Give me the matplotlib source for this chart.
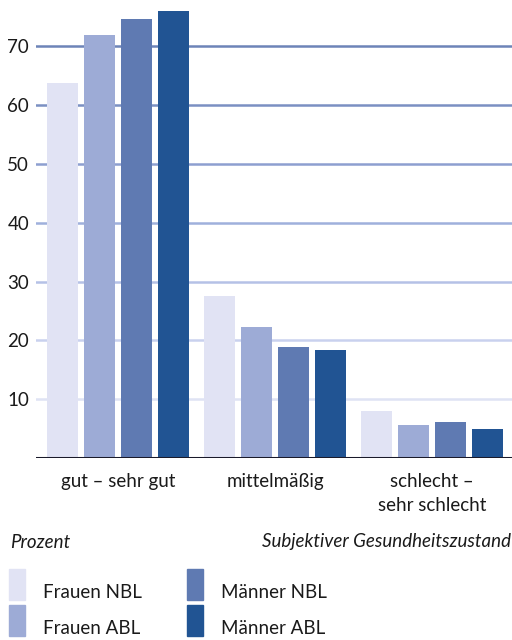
import matplotlib
matplotlib.use("Agg")
import matplotlib.pyplot as plt
import numpy as np

plt.rcParams['font.family'] = ['Lato', 'DejaVu Sans']

categories = ["gut – sehr gut", "mittelmäßig", "schlecht –\nsehr schlecht"]
series_names = ["Frauen NBL", "Frauen ABL", "Männer NBL", "Männer ABL"]
values = {
    "Frauen NBL": [63.8, 27.6, 8.0],
    "Frauen ABL": [71.9, 22.3, 5.6],
    "Männer NBL": [74.7, 18.9, 6.1],
    "Männer ABL": [76.0, 18.4, 4.9],
}
colors = ["#e1e3f4", "#9dabd6", "#5f7ab2", "#215493"]
yticks = [10, 20, 30, 40, 50, 60, 70]
grid_colors = ["#dfe3f4", "#c9d1ee", "#b5c1e6", "#9fb0dc", "#8d9fd0", "#7b90c2", "#6d84b8"]

W, H = 512, 640
fig = plt.figure(figsize=(W/100, H/100), dpi=100)
ax = fig.add_axes([36/W, 1-458/H, (512-36)/W, 458/H])

x = np.arange(len(categories))
pitch = 0.234
width = 0.197
for i, name in enumerate(series_names):
    ax.bar(x + (i-1.5)*pitch, values[name], width=width, color=colors[i], zorder=3)

for t, c in zip(yticks, grid_colors):
    ax.axhline(t, color=c, lw=1.8, zorder=1)
ax.axhline(0, color="#1a1a2a", lw=2.2, zorder=4)

fs = 13.5
ax.set_xlim(-0.522, 2.51)
ax.set_ylim(0, 77.9)
for s in ax.spines.values():
    s.set_visible(False)
ax.set_yticks(yticks)
ax.set_yticklabels([str(t) for t in yticks], fontsize=fs, color="#1a1a1a")
ax.tick_params(axis='y', length=0, pad=5)
ax.set_xticks(x)
ax.set_xticklabels(categories, fontsize=fs, color="#1a1a1a", linespacing=1.45, va='top')
ax.tick_params(axis='x', length=0, pad=11)

txtc = "#1a1a1a"
fig.text(10/W, 1-542/H, "Prozent", style='italic', fontsize=fs, color=txtc, va='center', ha='left')
fig.text(511/W, 1-542/H, "Subjektiver Gesundheitszustand", style='italic', fontsize=fs, color=txtc, va='center', ha='right')

# legend
leg_pos = [(9, 569, 43), (9, 605, 43), (187, 569, 221), (187, 605, 221)]
for (lx, ly, tx), name, c in zip(leg_pos, series_names, colors):
    fig.patches.append(plt.Rectangle((lx/W, 1-(ly+31)/H), 16/W, 31/H, transform=fig.transFigure, color=c))
    fig.text(tx/W, 1-(ly+23)/H, name, fontsize=fs, color=txtc, va='center', ha='left')

fig.savefig("out.png", dpi=100)
